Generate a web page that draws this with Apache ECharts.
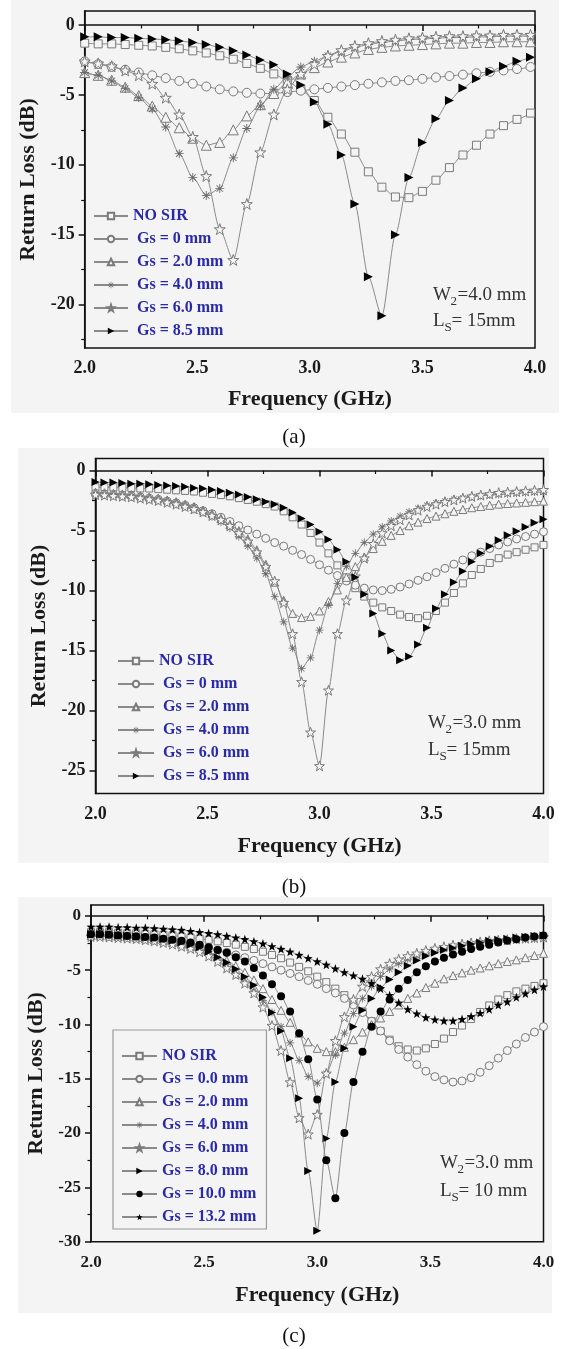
<!DOCTYPE html>
<html><head><meta charset="utf-8">
<script src="https://cdn.jsdelivr.net/npm/echarts@6/dist/echarts.min.js"></script>
<style>html,body{margin:0;padding:0;background:#fff}#c{width:565px;height:1349px}</style>
</head><body><div id="c"></div>
<script>
// ---------- data ----------
const freqA = [2.00,2.06,2.12,2.18,2.24,2.30,2.36,2.42,2.48,2.54,2.60,2.66,2.72,2.78,2.84,2.90,2.96,3.02,3.08,3.14,3.20,3.26,3.32,3.38,3.44,3.50,3.56,3.62,3.68,3.74,3.80,3.86,3.92,3.98];
const a_noSir = [-1.3,-1.35,-1.35,-1.4,-1.45,-1.5,-1.6,-1.7,-1.85,-2.0,-2.2,-2.45,-2.75,-3.1,-3.5,-4.0,-4.6,-5.4,-6.6,-7.8,-9.1,-10.5,-11.6,-12.3,-12.35,-11.9,-11.1,-10.2,-9.3,-8.6,-7.8,-7.2,-6.75,-6.3];
const a_gs0 = [-2.6,-2.8,-3.0,-3.2,-3.4,-3.6,-3.8,-4.0,-4.2,-4.4,-4.6,-4.75,-4.85,-4.9,-4.9,-4.8,-4.7,-4.6,-4.5,-4.4,-4.3,-4.2,-4.1,-4.0,-3.95,-3.85,-3.75,-3.65,-3.55,-3.45,-3.35,-3.25,-3.15,-3.0];
const a_gs2 = [-3.4,-3.6,-3.95,-4.45,-5.05,-5.8,-6.6,-7.35,-8.1,-8.6,-8.4,-7.5,-6.5,-5.7,-4.9,-4.1,-3.5,-3.05,-2.65,-2.3,-2.0,-1.75,-1.6,-1.5,-1.45,-1.4,-1.35,-1.3,-1.3,-1.25,-1.25,-1.2,-1.2,-1.2];
const a_gs4 = [-3.4,-3.6,-4.0,-4.55,-5.2,-6.0,-7.3,-9.2,-10.9,-12.2,-11.7,-9.5,-7.4,-5.8,-4.6,-3.7,-3.0,-2.6,-2.2,-1.9,-1.6,-1.4,-1.25,-1.15,-1.05,-1.0,-0.95,-0.9,-0.9,-0.85,-0.85,-0.8,-0.8,-0.8];
const a_gs6 = [-2.6,-2.75,-2.95,-3.25,-3.6,-4.2,-5.2,-6.4,-8.0,-10.8,-14.6,-16.8,-12.8,-9.1,-6.4,-4.6,-3.5,-2.8,-2.2,-1.8,-1.5,-1.3,-1.15,-1.05,-0.95,-0.9,-0.85,-0.8,-0.8,-0.75,-0.75,-0.7,-0.7,-0.7];
const a_gs85 = [-0.85,-0.85,-0.9,-0.9,-0.95,-1.0,-1.05,-1.15,-1.25,-1.4,-1.6,-1.85,-2.15,-2.5,-2.85,-3.5,-4.3,-5.5,-7.1,-9.3,-12.8,-18.0,-20.8,-15.0,-10.9,-8.4,-6.7,-5.4,-4.5,-3.85,-3.35,-2.95,-2.6,-2.3];

const freqB = [2.00,2.04,2.08,2.12,2.16,2.20,2.24,2.28,2.32,2.36,2.40,2.44,2.48,2.52,2.56,2.60,2.64,2.68,2.72,2.76,2.80,2.84,2.88,2.92,2.96,3.00,3.04,3.08,3.12,3.16,3.20,3.24,3.28,3.32,3.36,3.40,3.44,3.48,3.52,3.56,3.60,3.64,3.68,3.72,3.76,3.80,3.84,3.88,3.92,3.96,4.00];
const b_noSir = [-1.4,-1.4,-1.4,-1.45,-1.45,-1.5,-1.5,-1.55,-1.6,-1.65,-1.7,-1.75,-1.85,-1.95,-2.05,-2.15,-2.3,-2.45,-2.6,-2.8,-3.0,-3.4,-3.9,-4.5,-5.2,-6.0,-6.9,-7.9,-8.9,-9.8,-10.5,-11.0,-11.4,-11.7,-12.0,-12.2,-12.3,-12.1,-11.7,-11.0,-10.2,-9.4,-8.7,-8.2,-7.7,-7.3,-7.0,-6.8,-6.6,-6.4,-6.2];
const b_gs0 = [-1.9,-1.95,-2.0,-2.05,-2.1,-2.2,-2.3,-2.4,-2.55,-2.7,-2.9,-3.1,-3.35,-3.6,-3.9,-4.25,-4.6,-4.95,-5.3,-5.65,-6.0,-6.3,-6.65,-7.0,-7.4,-7.85,-8.3,-8.75,-9.2,-9.55,-9.8,-9.95,-10.0,-9.9,-9.7,-9.45,-9.15,-8.85,-8.5,-8.15,-7.8,-7.45,-7.1,-6.8,-6.5,-6.2,-5.95,-5.7,-5.5,-5.3,-5.1];
const b_gs2 = [-1.8,-1.85,-1.9,-1.95,-2.0,-2.1,-2.2,-2.3,-2.45,-2.6,-2.8,-3.0,-3.3,-3.6,-4.0,-4.5,-5.0,-5.7,-6.6,-7.8,-9.3,-10.8,-11.9,-12.25,-12.15,-11.7,-10.9,-9.95,-8.9,-8.0,-7.2,-6.5,-5.9,-5.4,-5.0,-4.6,-4.3,-4.0,-3.8,-3.6,-3.4,-3.25,-3.1,-3.0,-2.9,-2.8,-2.75,-2.7,-2.65,-2.6,-2.55];
const b_gs4 = [-2.0,-2.05,-2.1,-2.15,-2.2,-2.3,-2.4,-2.5,-2.65,-2.8,-3.0,-3.25,-3.5,-3.85,-4.3,-4.8,-5.5,-6.3,-7.3,-8.6,-10.5,-12.6,-14.8,-16.5,-15.6,-13.3,-11.2,-9.4,-8.0,-6.9,-6.0,-5.3,-4.7,-4.2,-3.8,-3.45,-3.15,-2.9,-2.7,-2.55,-2.4,-2.3,-2.2,-2.1,-2.05,-2.0,-1.95,-1.9,-1.85,-1.8,-1.8];
const b_gs6 = [-2.0,-2.05,-2.1,-2.15,-2.2,-2.3,-2.4,-2.5,-2.65,-2.8,-3.0,-3.2,-3.45,-3.75,-4.1,-4.6,-5.2,-5.9,-6.8,-8.0,-9.2,-11.0,-13.6,-17.6,-21.8,-24.6,-18.3,-13.6,-10.8,-8.8,-7.3,-6.1,-5.2,-4.6,-4.1,-3.7,-3.3,-3.0,-2.8,-2.6,-2.45,-2.3,-2.15,-2.05,-1.95,-1.85,-1.8,-1.75,-1.7,-1.65,-1.6];
const b_gs85 = [-0.95,-1.0,-1.0,-1.05,-1.1,-1.1,-1.15,-1.2,-1.25,-1.3,-1.35,-1.45,-1.5,-1.6,-1.7,-1.85,-2.0,-2.2,-2.4,-2.6,-2.8,-3.1,-3.5,-4.0,-4.5,-5.1,-5.75,-6.6,-7.6,-8.9,-10.3,-11.9,-13.6,-15.0,-15.8,-15.5,-14.5,-13.1,-11.5,-10.3,-9.3,-8.4,-7.6,-6.9,-6.3,-5.8,-5.4,-5.05,-4.7,-4.35,-4.05];

const freqC = [2.00,2.04,2.08,2.12,2.16,2.20,2.24,2.28,2.32,2.36,2.40,2.44,2.48,2.52,2.56,2.60,2.64,2.68,2.72,2.76,2.80,2.84,2.88,2.92,2.96,3.00,3.04,3.08,3.12,3.16,3.20,3.24,3.28,3.32,3.36,3.40,3.44,3.48,3.52,3.56,3.60,3.64,3.68,3.72,3.76,3.80,3.84,3.88,3.92,3.96,4.00];
const c_noSir = [-1.5,-1.5,-1.5,-1.55,-1.6,-1.6,-1.65,-1.7,-1.75,-1.8,-1.9,-2.0,-2.1,-2.2,-2.35,-2.5,-2.65,-2.85,-3.05,-3.3,-3.6,-3.9,-4.3,-4.7,-5.1,-5.6,-6.1,-6.7,-7.3,-8.0,-8.8,-9.7,-10.6,-11.4,-12.0,-12.3,-12.4,-12.2,-11.8,-11.3,-10.7,-10.1,-9.5,-8.85,-8.25,-7.7,-7.3,-6.95,-6.7,-6.45,-6.2];
const c_gs0 = [-1.7,-1.7,-1.75,-1.8,-1.85,-1.9,-2.0,-2.1,-2.2,-2.3,-2.45,-2.6,-2.75,-2.95,-3.15,-3.35,-3.6,-3.85,-4.1,-4.4,-4.7,-5.0,-5.3,-5.6,-5.95,-6.3,-6.7,-7.1,-7.6,-8.2,-8.9,-9.7,-10.6,-11.5,-12.3,-13.0,-13.7,-14.3,-14.8,-15.1,-15.3,-15.2,-14.9,-14.4,-13.8,-13.1,-12.4,-11.8,-11.2,-10.7,-10.2];
const c_gs2 = [-1.8,-1.8,-1.85,-1.9,-1.95,-2.0,-2.1,-2.2,-2.3,-2.45,-2.6,-2.8,-3.0,-3.3,-3.7,-4.1,-4.6,-5.2,-5.9,-6.7,-7.7,-8.7,-9.8,-10.8,-11.6,-12.2,-12.5,-12.5,-12.1,-11.4,-10.7,-10.0,-9.4,-8.8,-8.2,-7.6,-7.1,-6.6,-6.2,-5.8,-5.5,-5.25,-5.0,-4.8,-4.6,-4.4,-4.2,-4.05,-3.85,-3.65,-3.45];
const c_gs4 = [-1.8,-1.8,-1.85,-1.9,-1.95,-2.0,-2.1,-2.2,-2.35,-2.5,-2.7,-2.9,-3.2,-3.6,-4.1,-4.7,-5.4,-6.1,-6.9,-7.8,-8.9,-10.2,-11.7,-13.3,-14.8,-15.4,-14.5,-12.8,-10.8,-9.0,-7.6,-6.5,-5.6,-4.9,-4.4,-4.0,-3.7,-3.45,-3.2,-3.0,-2.85,-2.7,-2.6,-2.5,-2.4,-2.3,-2.25,-2.2,-2.15,-2.1,-2.05];
const c_gs6 = [-1.9,-1.9,-1.95,-2.0,-2.05,-2.1,-2.2,-2.3,-2.45,-2.6,-2.8,-3.0,-3.3,-3.7,-4.2,-4.8,-5.4,-6.2,-7.1,-8.4,-10.1,-12.4,-15.3,-18.6,-20.1,-18.3,-14.5,-11.5,-9.3,-7.7,-6.5,-5.6,-4.9,-4.4,-4.0,-3.7,-3.45,-3.2,-3.0,-2.85,-2.7,-2.6,-2.5,-2.4,-2.3,-2.25,-2.2,-2.1,-2.05,-2.0,-1.95];
const c_gs8 = [-1.7,-1.7,-1.75,-1.8,-1.85,-1.9,-2.0,-2.05,-2.15,-2.3,-2.45,-2.65,-2.9,-3.3,-3.8,-4.3,-4.9,-5.6,-6.4,-7.5,-8.9,-10.6,-13.1,-16.8,-23.5,-29.0,-20.5,-15.3,-12.2,-10.2,-8.7,-7.6,-6.6,-5.85,-5.2,-4.6,-4.1,-3.7,-3.4,-3.15,-2.95,-2.75,-2.6,-2.45,-2.3,-2.2,-2.1,-2.0,-1.95,-1.85,-1.8];
const c_gs10 = [-1.7,-1.7,-1.75,-1.8,-1.85,-1.9,-1.95,-2.0,-2.1,-2.2,-2.3,-2.45,-2.65,-2.9,-3.15,-3.4,-3.8,-4.2,-4.8,-5.5,-6.3,-7.4,-8.8,-10.8,-13.2,-16.9,-22.5,-26.0,-20.0,-15.3,-12.5,-10.2,-8.8,-7.7,-6.7,-5.9,-5.2,-4.65,-4.2,-3.85,-3.55,-3.3,-3.05,-2.85,-2.65,-2.45,-2.3,-2.15,-2.0,-1.9,-1.8];
const c_gs132 = [-1.0,-1.0,-1.0,-1.05,-1.05,-1.1,-1.1,-1.15,-1.2,-1.25,-1.3,-1.4,-1.5,-1.6,-1.7,-1.85,-2.0,-2.15,-2.35,-2.55,-2.8,-3.05,-3.3,-3.6,-3.9,-4.2,-4.5,-4.85,-5.2,-5.5,-5.8,-6.2,-6.7,-7.3,-8.0,-8.6,-9.0,-9.35,-9.55,-9.65,-9.65,-9.5,-9.25,-8.95,-8.6,-8.2,-7.9,-7.5,-7.15,-6.8,-6.5];

const xTicks = [2.0, 2.5, 3.0, 3.5, 4.0];
const yTicksA = [0, -5, -10, -15, -20];
const yTicksB = [0, -5, -10, -15, -20, -25];
const yTicksC = [0, -5, -10, -15, -20, -25, -30];
const namesAB = ['NO SIR', ' Gs = 0 mm', ' Gs = 2.0 mm', ' Gs = 4.0 mm', ' Gs = 6.0 mm', ' Gs = 8.5 mm'];
const namesC = ['NO SIR', 'Gs = 0.0 mm', 'Gs = 2.0 mm', 'Gs = 4.0 mm', 'Gs = 6.0 mm', 'Gs = 8.0 mm', 'Gs = 10.0 mm', 'Gs = 13.2 mm'];

// ---------- styles ----------
const BG = '#f4f4f4';
const GRAY = '#8a8a8a';
const SERIF = 'Liberation Serif';
const SYM = {
  square: 'rect',
  circle: 'circle',
  tri: 'triangle',
  aster: 'path://M-1,-10L1,-10L1,10L-1,10Z M-10,-1L10,-1L10,1L-10,1Z M-7.8,-6.4L-6.4,-7.8L7.8,6.4L6.4,7.8Z M6.4,-7.8L7.8,-6.4L-6.4,7.8L-7.8,6.4Z',
  star: 'path://M0,-10L2.35,-3.24L9.51,-3.09L3.8,1.24L5.88,8.09L0,4L-5.88,8.09L-3.8,1.24L-9.51,-3.09L-2.35,-3.24Z',
  rtri: 'path://M0,0L10,5L0,10Z'
};
function hollow(sym, size){ return {symbol: sym, symbolSize: size, itemStyle:{color: BG, borderColor: '#7a7a7a', borderWidth: 1}}; }
function filled(sym, size){ return {symbol: sym, symbolSize: size, itemStyle:{color: '#000', borderColor: '#000', borderWidth: 0}}; }
function asterSty(size){ return {symbol: SYM.aster, symbolSize: size, itemStyle:{color: '#6a6a6a', borderWidth: 0}}; }

const panels = [
  { grid:{left:84.7, top:11, width:450.3, height:337}, yMin:-23.1, yTicks:yTicksA, font:18,
    yNameGap:43, xNameGap:40, xMargin:11, x:freqA,
    series:[[namesAB[0],a_noSir,hollow(SYM.square,8)],[namesAB[1],a_gs0,hollow(SYM.circle,9)],[namesAB[2],a_gs2,hollow(SYM.tri,10)],[namesAB[3],a_gs4,asterSty(9)],[namesAB[4],a_gs6,hollow(SYM.star,11)],[namesAB[5],a_gs85,filled(SYM.rtri,9)]],
    legend:{left:88, top:203, itemWidth:34, box:false},
    annot:{x:433, y1:295, y2:321, w:'=4.0 mm', l:'= 15mm'}, caption:{y:437, text:'(a)'},
    bg:{x:11, y:0, w:548, h:413} },
  { grid:{left:95.5, top:458.5, width:448, height:335}, yMin:-26.9, yTicks:yTicksB, font:18,
    yNameGap:45, xNameGap:42, xMargin:12, x:freqB,
    series:[[namesAB[0],b_noSir,hollow(SYM.square,7)],[namesAB[1],b_gs0,hollow(SYM.circle,8)],[namesAB[2],b_gs2,hollow(SYM.tri,8)],[namesAB[3],b_gs4,asterSty(8)],[namesAB[4],b_gs6,hollow(SYM.star,10)],[namesAB[5],b_gs85,filled(SYM.rtri,8)]],
    legend:{left:112, top:648, itemWidth:36, box:false},
    annot:{x:428, y1:723, y2:750, w:'=3.0 mm', l:'= 15mm'}, caption:{y:887, text:'(b)'},
    bg:{x:18, y:448, w:531, h:415} },
  { grid:{left:91, top:905, width:452.5, height:336.7}, yMin:-30, yTicks:yTicksC, font:17,
    yNameGap:44, xNameGap:43, xMargin:12, x:freqC,
    series:[[namesC[0],c_noSir,hollow(SYM.square,7)],[namesC[1],c_gs0,hollow(SYM.circle,8)],[namesC[2],c_gs2,hollow(SYM.tri,8)],[namesC[3],c_gs4,asterSty(8)],[namesC[4],c_gs6,hollow(SYM.star,10)],[namesC[5],c_gs8,filled(SYM.rtri,8)],[namesC[6],c_gs10,filled(SYM.circle,8)],[namesC[7],c_gs132,filled(SYM.star,9)]],
    legend:{left:113, top:1030, itemWidth:35, box:true},
    annot:{x:440, y1:1163, y2:1191, w:'=3.0 mm', l:'= 10 mm'}, caption:{y:1336, text:'(c)'},
    bg:{x:18, y:897, w:534, h:416} }
];

function mids(arr){ const out=[]; for(let i=0;i<arr.length-1;i++) out.push((arr[i]+arr[i+1])/2); return out; }

const option = { animation:false, backgroundColor:'#fff', grid:[], xAxis:[], yAxis:[], series:[], legend:[], graphic:[] };

panels.forEach((p, pi) => {
  option.grid.push(Object.assign({show:true, backgroundColor:BG, borderColor:'#111', borderWidth:1.5}, p.grid));
  const axisFont = {fontFamily:SERIF, fontWeight:'bold', fontSize:p.font, color:'#1a1a1a'};
  const nameFont = {fontFamily:SERIF, fontWeight:'bold', fontSize:22, color:'#1a1a1a'};
  option.xAxis.push({ type:'value', gridIndex:pi, min:2, max:4, position:'bottom',
    name:'Frequency (GHz)', nameLocation:'middle', nameGap:p.xNameGap, nameTextStyle:nameFont,
    axisLine:{show:true, lineStyle:{color:'#111', width:1.5}},
    axisTick:{show:true, length:6, lineStyle:{color:'#111', width:1.5}, customValues:xTicks},
    axisLabel:{show:true, margin:p.xMargin, customValues:xTicks, formatter:v=>Number(v).toFixed(1), ...axisFont},
    splitLine:{show:false} });
  option.xAxis.push({ type:'value', gridIndex:pi, min:2, max:4, position:'bottom',
    axisLine:{show:false}, axisLabel:{show:false}, splitLine:{show:false},
    axisTick:{show:true, length:3.5, lineStyle:{color:'#111', width:1.2}, customValues:mids(xTicks)} });
  option.yAxis.push({ type:'value', gridIndex:pi, min:p.yMin, max:1, position:'left',
    name:'Return Loss (dB)', nameLocation:'middle', nameRotate:90, nameGap:p.yNameGap, nameTextStyle:nameFont,
    axisLine:{show:true, lineStyle:{color:'#111', width:1.5}},
    axisTick:{show:true, length:6, lineStyle:{color:'#111', width:1.5}, customValues:p.yTicks},
    axisLabel:{show:true, margin:10, customValues:p.yTicks, formatter:v=>String(Math.round(v)), ...axisFont},
    splitLine:{show:false} });
  const yMinor = mids(p.yTicks); if (p.yTicks[p.yTicks.length-1]-2.5 > p.yMin) yMinor.push(p.yTicks[p.yTicks.length-1]-2.5);
  option.yAxis.push({ type:'value', gridIndex:pi, min:p.yMin, max:1, position:'left',
    axisLine:{show:false}, axisLabel:{show:false}, splitLine:{show:false},
    axisTick:{show:true, length:3.5, lineStyle:{color:'#111', width:1.2}, customValues:yMinor} });

  p.series.forEach((s, si) => {
    const [name, ys, sty] = s;
    option.series.push(Object.assign({
      type:'line', name:name, xAxisIndex:pi*2, yAxisIndex:pi*2,
      data: p.x.map((xv, i) => [xv, ys[i]]),
      showSymbol:true, smooth:0.25, smoothMonotone:'x',
      lineStyle:{color:GRAY, width:1}, z: 2 + si, emphasis:{disabled:true}
    }, sty));
  });

  option.legend.push({
    left:p.legend.left, top:p.legend.top, orient:'vertical', selectedMode:false,
    data: p.series.map(s => s[0]),
    itemWidth:p.legend.itemWidth, itemHeight:8, itemGap:7,
    padding: p.legend.box ? [18, 10, 4, 8] : 5,
    backgroundColor: p.legend.box ? BG : 'transparent',
    borderColor: p.legend.box ? '#9a9a9a' : 'transparent', borderWidth: p.legend.box ? 1.2 : 0,
    textStyle:{fontFamily:SERIF, fontWeight:'bold', fontSize:16, color:'#2a2aa8', lineHeight:16}
  });

  option.graphic.push({type:'rect', z:-10, silent:true, shape:{x:p.bg.x, y:p.bg.y, width:p.bg.w, height:p.bg.h}, style:{fill:BG}});
  const af = '19px "Liberation Serif"', sf = '13px "Liberation Serif"', col = '#333';
  const ax = p.annot.x;
  option.graphic.push({type:'text', z:50, x:ax, y:p.annot.y1, style:{text:'W', font:af, fill:col, textVerticalAlign:'middle'}});
  option.graphic.push({type:'text', z:50, x:ax+17.5, y:p.annot.y1+7, style:{text:'2', font:sf, fill:col, textVerticalAlign:'middle'}});
  option.graphic.push({type:'text', z:50, x:ax+24.5, y:p.annot.y1, style:{text:p.annot.w, font:af, fill:col, textVerticalAlign:'middle'}});
  option.graphic.push({type:'text', z:50, x:ax, y:p.annot.y2, style:{text:'L', font:af, fill:col, textVerticalAlign:'middle'}});
  option.graphic.push({type:'text', z:50, x:ax+11.5, y:p.annot.y2+7, style:{text:'S', font:sf, fill:col, textVerticalAlign:'middle'}});
  option.graphic.push({type:'text', z:50, x:ax+18.5, y:p.annot.y2, style:{text:p.annot.l, font:af, fill:col, textVerticalAlign:'middle'}});
  option.graphic.push({type:'text', z:50, x:294, y:p.caption.y, style:{text:p.caption.text, font:'21px "Liberation Serif"', fill:'#111', textAlign:'center', textVerticalAlign:'middle'}});
});

const chart = echarts.init(document.getElementById('c'), null, {renderer:'canvas'});
chart.setOption(option);
</script>
</body></html>
